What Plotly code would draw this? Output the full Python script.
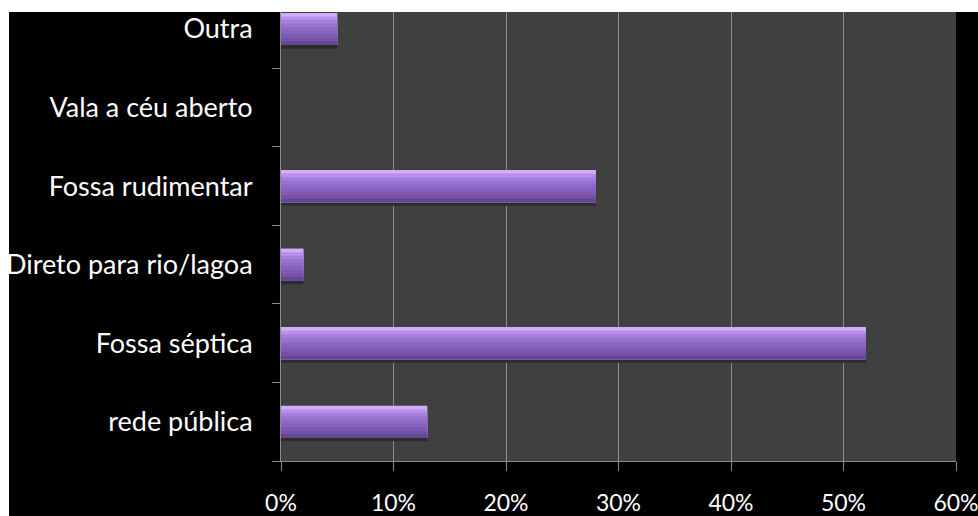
import plotly.graph_objects as go

# Destino do esgoto (percentual de domicílios)
categorias = ["rede pública", "Fossa séptica", "Direto para rio/lagoa",
              "Fossa rudimentar", "Vala a céu aberto", "Outra"]
percentuais = [13, 52, 2, 28, 0, 5]
marcas_x = [0, 10, 20, 30, 40, 50, 60]
rotulos_x = ["0%", "10%", "20%", "30%", "40%", "50%", "60%"]

W, H = 978, 516
L, R, T, B = 281, 22, 12, 55

# Faixas horizontais que simulam o degradê em relevo das barras (de cima para baixo)
faixas = ["#d2adf9", "#b890ea", "#a57ede", "#9873d2", "#8e69c7",
          "#8661bd", "#7e5ab2", "#7452a5", "#654794"]
espessura_barra = 0.41
passo = espessura_barra / len(faixas)
base = -espessura_barra / 2

fig = go.Figure()

# sombra sob as barras
fig.add_trace(go.Bar(
    y=categorias, x=percentuais, orientation="h",
    width=0.05, offset=base - 0.045,
    marker=dict(color="#2c2c2c", line=dict(width=0)),
    hoverinfo="skip", showlegend=False,
))

# cada faixa vai do seu topo até a base da barra; a seguinte cobre a parte de baixo
for i, cor in enumerate(faixas):
    topo = espessura_barra / 2 - i * passo
    fig.add_trace(go.Bar(
        y=categorias, x=percentuais, orientation="h",
        width=topo - base, offset=base,
        marker=dict(color=cor, line=dict(width=0)),
        hoverinfo="skip", showlegend=False,
    ))

ph = H - T - B
topo_faixa = 5 + (29 - T) / 78.5

fig.update_layout(
    width=W, height=H,
    margin=dict(l=L, r=R, t=T, b=B, pad=0, autoexpand=False),
    paper_bgcolor="black",
    plot_bgcolor="#404040",
    barmode="overlay",
    showlegend=False,
    font=dict(family="Lato", color="white"),
    xaxis=dict(
        range=[0, 60], tickmode="array", tickvals=marcas_x, ticktext=rotulos_x,
        showgrid=True, gridcolor="#8c8c8c", gridwidth=1,
        showline=True, linecolor="#8c8c8c", linewidth=1,
        ticks="outside", ticklen=9, tickcolor="#8c8c8c",
        ticklabelstandoff=12, ticklabeloverflow="allow", automargin=False,
        tickfont=dict(size=23, color="white", family="Lato"),
        zeroline=False, fixedrange=True,
    ),
    yaxis=dict(
        type="category", categoryorder="array", categoryarray=categorias,
        range=[-0.5, topo_faixa],
        showline=True, linecolor="#8c8c8c", linewidth=1,
        ticks="outside", ticklen=8, tickcolor="#8c8c8c",
        tickson="boundaries", showgrid=False,
        ticklabelstandoff=22, automargin=False,
        tickfont=dict(size=27, color="white", family="Lato"),
        zeroline=False, fixedrange=True,
    ),
    shapes=[
        dict(type="rect", xref="paper", yref="paper", layer="below",
             x0=-L / (W - L - R), x1=(R + 5) / (W - L - R) + 1,
             y0=1, y1=1 + (T + 5) / ph,
             fillcolor="white", line=dict(width=0)),
        dict(type="rect", xref="paper", yref="paper", layer="below",
             x0=-L / (W - L - R) - 0.01, x1=-(L - 9) / (W - L - R),
             y0=-B / ph - 0.01, y1=1 + (T + 5) / ph,
             fillcolor="white", line=dict(width=0)),
    ],
)

fig.write_html("out.html")
